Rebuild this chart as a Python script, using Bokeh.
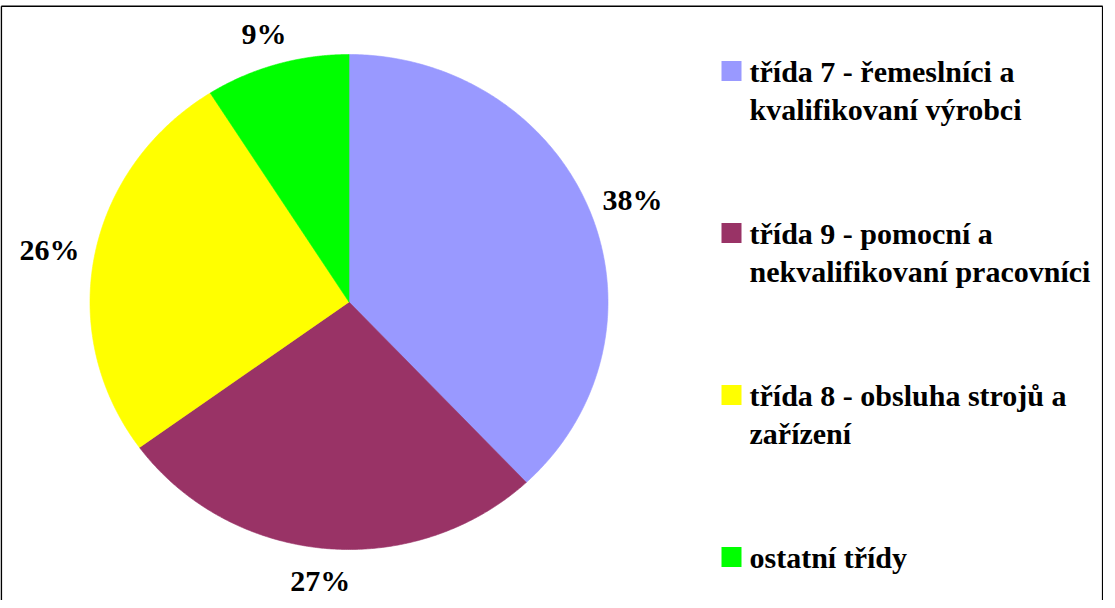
import numpy as np
from bokeh.plotting import figure
from bokeh.models import Range1d
from bokeh.core.properties import value
from bokeh.embed import file_html
from bokeh.resources import INLINE

# ---- data ----
categories = [
    "třída 7 - řemeslníci a\nkvalifikovaní výrobci",
    "třída 9 - pomocní a\nnekvalifikovaní pracovníci",
    "třída 8 - obsluha strojů a\nzařízení",
    "ostatní třídy",
]
shares = [38, 27, 26, 9]
pct_labels = ["38%", "27%", "26%", "9%"]
colors = ["#9999FF", "#993366", "#FFFF00", "#00FF00"]

# ---- figure ----
W, H = 1103, 600
p = figure(width=W, height=H, x_range=Range1d(0, W), y_range=Range1d(H, 0),
           output_backend="svg", toolbar_location=None, min_border=0)
p.axis.visible = False
p.grid.visible = False
p.outline_line_color = None
p.background_fill_color = "white"
p.border_fill_color = "white"

FONT = value("Liberation Serif")

# pie (slightly elliptical, starts at 12 o'clock, clockwise)
cx, cy, rx, ry = 348.5, 301.5, 259.0, 247.5
off_x, off_y = 46.0, 32.0   # label distance outside the pie edge
total = float(sum(shares))
cum = np.cumsum([0] + shares) / total * 2 * np.pi
xs, ys, lx, ly = [], [], [], []
for a0, a1 in zip(cum[:-1], cum[1:]):
    t = np.linspace(a0, a1, 240)
    xs.append([cx] + list(cx + rx * np.sin(t)))
    ys.append([cy] + list(cy - ry * np.cos(t)))
    mid = (a0 + a1) / 2
    lx.append(cx + (rx + off_x) * np.sin(mid))
    ly.append(cy - (ry + off_y) * np.cos(mid))

p.patches(xs, ys, fill_color=colors, line_color=colors, line_width=0.6)

p.text(x=lx, y=ly, text=pct_labels, text_font=FONT, text_font_style="bold",
       text_font_size="30px", text_align="center", text_baseline="middle",
       text_color="black")

# legend (manual)
leg_x, leg_top, leg_step, line_h, sq = 731.0, 70.5, 162.0, 38.5, 20.0
sq_x, sq_y, t_x, t_y, t_txt = [], [], [], [], []
for i, (lab, c) in enumerate(zip(categories, colors)):
    yc = leg_top + i * leg_step
    sq_x.append(leg_x)
    sq_y.append(yc)
    for j, line in enumerate(lab.split("\n")):
        t_x.append(leg_x + 18)
        t_y.append(yc + j * line_h)
        t_txt.append(line)
p.rect(x=sq_x, y=sq_y, width=sq, height=sq, fill_color=colors, line_color=None)
p.text(x=t_x, y=t_y, text=t_txt, text_font=FONT, text_font_style="bold",
       text_font_size="30px", text_align="left", text_baseline="middle",
       text_color="black")

# chart frame (bottom edge lies below the visible page)
p.multi_line(xs=[[0.8, 0.8], [0.8, 1102.2], [1102.2, 1102.2]],
             ys=[[H + 5, 5.8], [5.8, 5.8], [5.8, H + 5]],
             line_color="black", line_width=1.6)

open("out.html", "w").write(file_html(p, INLINE))
